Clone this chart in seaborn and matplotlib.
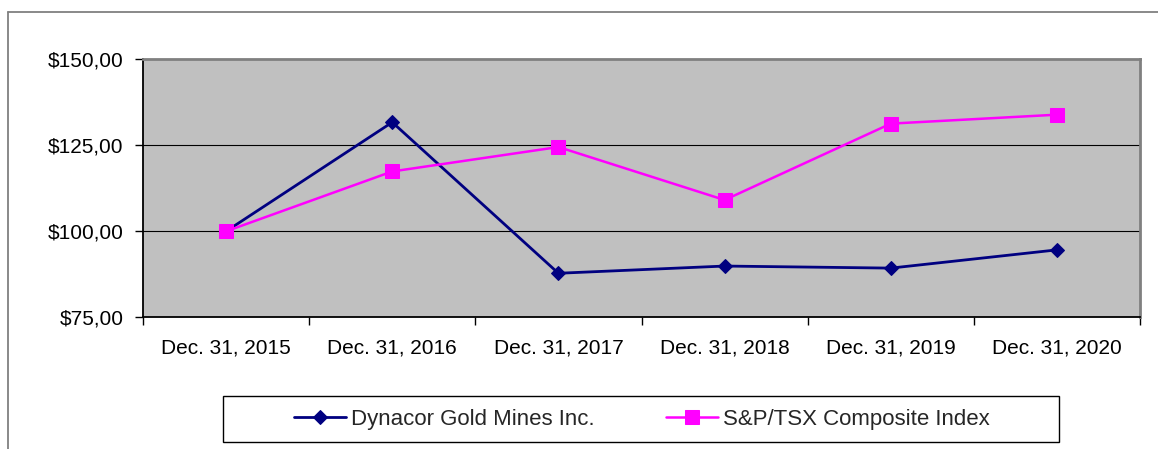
import matplotlib
matplotlib.use("Agg")
import matplotlib.pyplot as plt
import seaborn as sns
import pandas as pd
from matplotlib.lines import Line2D
from matplotlib.patches import Rectangle

categories = ["Dec. 31, 2015", "Dec. 31, 2016", "Dec. 31, 2017",
              "Dec. 31, 2018", "Dec. 31, 2019", "Dec. 31, 2020"]
dynacor = [100.0, 131.7, 87.8, 89.9, 89.3, 94.6]
sptsx = [100.0, 117.4, 124.5, 109.1, 131.3, 133.9]
series_names = ["Dynacor Gold Mines Inc.", "S&P/TSX Composite Index"]
y_ticks = [75, 100, 125, 150]
y_tick_labels = ["$75,00", "$100,00", "$125,00", "$150,00"]

sns.set_theme(style="white")
plt.rcParams["font.family"] = ["Liberation Sans", "DejaVu Sans"]

W, H = 1158, 449
fig = plt.figure(figsize=(W / 100, H / 100), dpi=100)
ax = fig.add_axes([143 / W, 1 - 317.3 / H, (1140 - 143) / W, (317.3 - 59.3) / H])
ax.set_facecolor("#C0C0C0")

df1 = pd.DataFrame({"x": range(len(categories)), "y": dynacor})
df2 = pd.DataFrame({"x": range(len(categories)), "y": sptsx})

for yv in [100, 125]:
    ax.axhline(yv, color="black", lw=0.8, zorder=1)

sns.lineplot(data=df1, x="x", y="y", ax=ax, color="#000080", lw=2.0,
             marker="D", markersize=7.5, markeredgecolor="#000080",
             markerfacecolor="#000080", label=series_names[0], zorder=3)
sns.lineplot(data=df2, x="x", y="y", ax=ax, color="#FF00FF", lw=1.8,
             marker="s", markersize=10.5, markeredgecolor="#FF00FF",
             markerfacecolor="#FF00FF", label=series_names[1], zorder=4)

ax.set_xlim(-0.5, len(categories) - 0.5)
ax.set_ylim(75, 150)
ax.set_xlabel("")
ax.set_ylabel("")

ax.set_yticks(y_ticks)
ax.set_yticklabels(y_tick_labels, fontsize=15, color="black")
ax.set_xticks(range(len(categories)))
ax.set_xticklabels(categories, fontsize=15, color="black")
ax.set_xticks([i - 0.5 for i in range(len(categories) + 1)], minor=True)
ax.tick_params(axis="x", which="major", length=0, pad=15)
ax.tick_params(axis="x", which="minor", length=6, width=1.0, color="black", direction="out", bottom=True)
ax.tick_params(axis="y", which="major", length=6, width=1.0, color="black", direction="out", pad=8, left=True)

for side in ["left", "bottom"]:
    ax.spines[side].set_color("black")
    ax.spines[side].set_linewidth(1.3)
for side in ["top", "right"]:
    ax.spines[side].set_color("#808080")
    ax.spines[side].set_linewidth(2.0)
    ax.spines[side].set_visible(True)

ax.legend_.remove()

# outer chart border (top and left visible)
fig.add_artist(Line2D([8 / W, 1.0], [1 - 12 / H, 1 - 12 / H], transform=fig.transFigure,
                      color="#808080", lw=1.3))
fig.add_artist(Line2D([8 / W, 8 / W], [0.0, 1 - 12 / H], transform=fig.transFigure,
                      color="#808080", lw=1.3))

# legend box
fig.add_artist(Rectangle((223 / W, 1 - 442 / H), (1059 - 223) / W, (442 - 396) / H,
                         transform=fig.transFigure, fill=False, edgecolor="black", lw=1.0))
handles, labels = ax.get_legend_handles_labels()
fig.legend(handles, labels, loc="center", bbox_to_anchor=(642 / W, 1 - 419 / H),
           ncol=2, frameon=False, fontsize=16, handlelength=2.35, handletextpad=0.22,
           columnspacing=3.2, borderpad=0)

fig.savefig("out.png", dpi=100, facecolor="white")
